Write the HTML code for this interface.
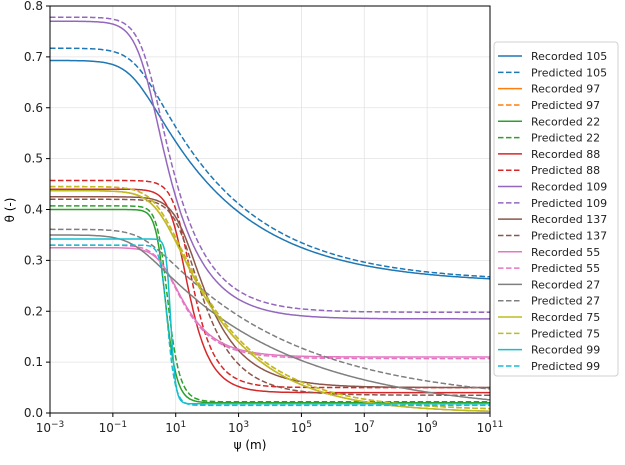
<!DOCTYPE html>
<html><head><meta charset="utf-8"><style>
body{margin:0;background:#fff}
text{font-family:"DejaVu Sans","Liberation Sans",sans-serif}
</style></head><body>
<svg id="s" width="625" height="460" xmlns="http://www.w3.org/2000/svg">
<rect width="625" height="460" fill="#fff"/>
<g id="grid" stroke="#e3e3e3" stroke-width="0.8"></g>
<g id="curves" fill="none" stroke-width="1.5"></g>
<rect x="50" y="6" width="440" height="407" fill="none" stroke="#000" stroke-width="1"/>
<g id="ticks" font-size="12" fill="#222"></g>
<text x="250" y="449" font-size="12" text-anchor="middle">ψ (m)</text>
<text transform="translate(14,210) rotate(-90)" font-size="12" text-anchor="middle">θ (-)</text>
<g id="legend"></g>
</svg>
<script>
const NS="http://www.w3.org/2000/svg";
function el(t,a,p,txt){const e=document.createElementNS(NS,t);for(const k in a)e.setAttribute(k,a[k]);if(txt!==undefined)e.textContent=txt;p.appendChild(e);return e;}
const X=l=>50+(l+3)*440/14, Y=v=>413-v*508.75;
const g=document.getElementById('grid'),tk=document.getElementById('ticks');
for(let l=-3;l<=11;l+=2){const x=X(l);el('line',{x1:x,x2:x,y1:6,y2:413},g);el('line',{x1:x,x2:x,y1:413,y2:417,stroke:'#000'},tk);
 const t=el('text',{x:x,y:432,'text-anchor':'middle'},tk);t.innerHTML='10<tspan dy="-5" font-size="9">'+(l<0?'−'+(-l):l)+'</tspan>';}
for(let i=0;i<=8;i++){const v=i/10,y=Y(v);el('line',{x1:50,x2:490,y1:y,y2:y},g);el('line',{x1:46,x2:50,y1:y,y2:y,stroke:'#000'},tk);
 el('text',{x:43,y:y+4,'text-anchor':'end'},tk,v.toFixed(1));}
const C={b:'#1f77b4',o:'#ff7f0e',g:'#2ca02c',r:'#d62728',p:'#9467bd',br:'#8c564b',pk:'#e377c2',gr:'#7f7f7f',ol:'#bcbd22',c:'#17becf'};
const S=[
['Recorded 105',C.b,.693,.255,2,1.15,0],['Predicted 105',C.b,.717,.258,1.5,1.15,1],
['Recorded 97',C.o,.437,.0,.3,1.2,0],['Predicted 97',C.o,.445,.005,.3,1.2,1],
['Recorded 22',C.g,.400,.02,.25,3,0],['Predicted 22',C.g,.407,.022,.22,2.8,1],
['Recorded 88',C.r,.440,.04,.08,1.8,0],['Predicted 88',C.r,.457,.05,.06,1.8,1],
['Recorded 109',C.p,.770,.185,.9,1.4,0],['Predicted 109',C.p,.778,.198,.7,1.4,1],
['Recorded 137',C.br,.425,.05,.06,1.4,0],['Predicted 137',C.br,.420,.035,.06,1.45,1],
['Recorded 55',C.pk,.325,.11,.2,1.5,0],['Predicted 55',C.pk,.330,.107,.22,1.5,1],
['Recorded 27',C.gr,.350,.0,2,1.1,0],['Predicted 27',C.gr,.361,.02,1,1.1,1],
['Recorded 75',C.ol,.437,.0,.3,1.2,0],['Predicted 75',C.ol,.445,.005,.3,1.2,1],
['Recorded 99',C.c,.342,.018,.15,6,0],['Predicted 99',C.c,.330,.015,.2,4,1]];
const cv=document.getElementById('curves'),lg=document.getElementById('legend');
S.forEach(s=>{let d='';const m=1-1/s[5];
 for(let l=-3;l<=11.001;l+=0.04){const p=Math.pow(10,l);const th=s[3]+(s[2]-s[3])/Math.pow(1+Math.pow(s[4]*p,s[5]),m);
  d+=(d?'L':'M')+X(l).toFixed(1)+','+Y(th).toFixed(1);}
 const a={d:d,stroke:s[1]};if(s[6])a['stroke-dasharray']='5.5,2.5';el('path',a,cv);});
el('rect',{x:494,y:42,width:124,height:334,rx:3,fill:'#fff',stroke:'#ccc','stroke-width':1,opacity:.9},lg);
S.forEach((s,i)=>{const y=56+i*(366-56)/19;
 const a={x1:498,x2:522,y1:y,y2:y,stroke:s[1],'stroke-width':1.5};if(s[6])a['stroke-dasharray']='5.5,2.5';el('line',a,lg);
 el('text',{x:531,y:y+4,'font-size':11,fill:'#222'},lg,s[0]);});
</script>
</body></html>
